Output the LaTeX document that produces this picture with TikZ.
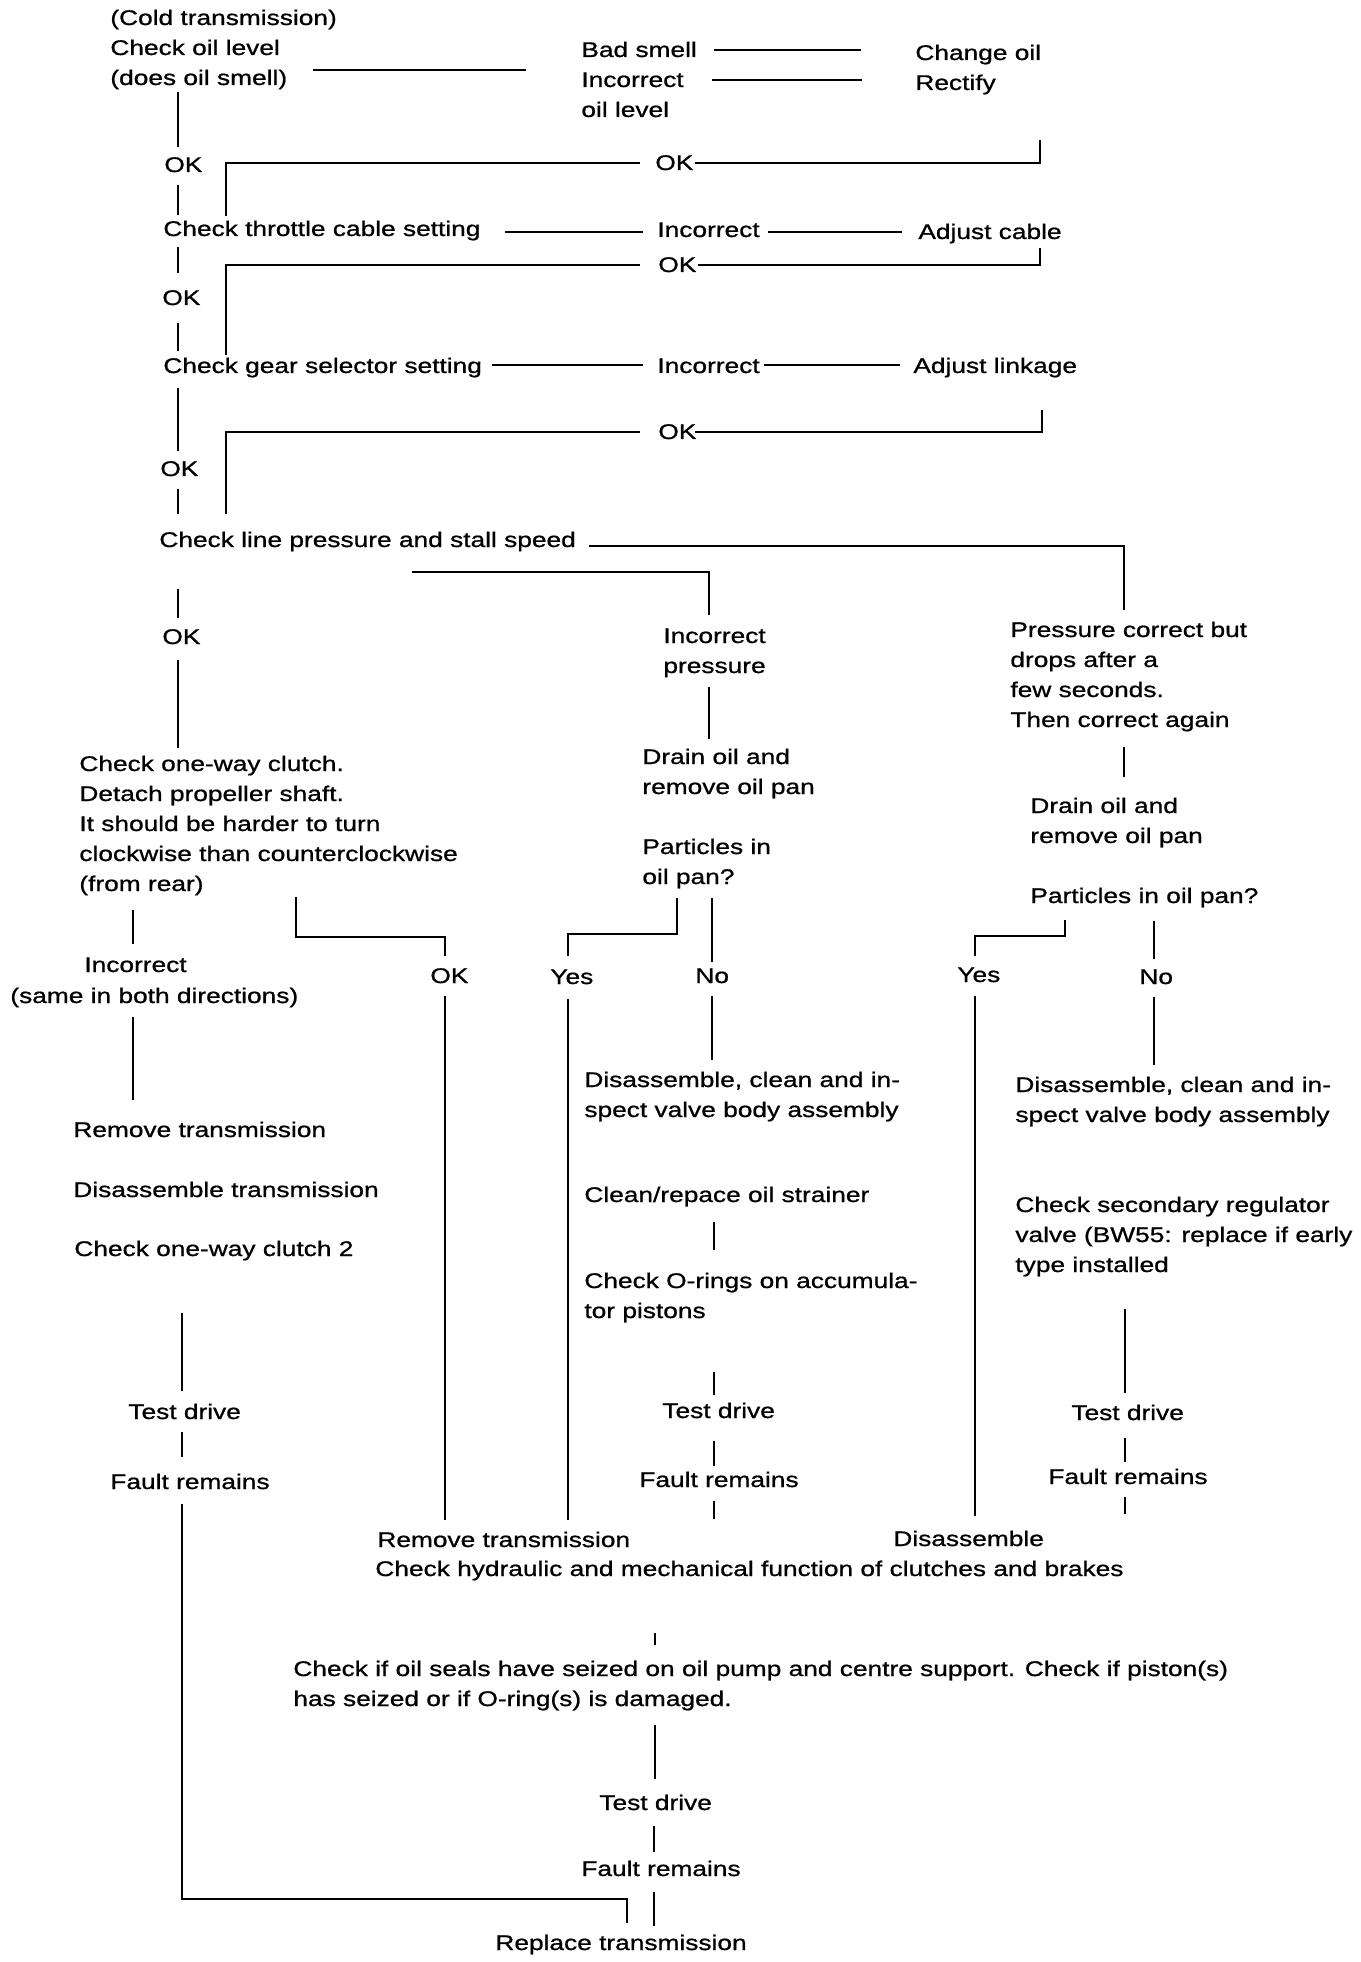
\documentclass[tikz,border=0pt]{standalone}
\usepackage{fontspec}
\setmainfont{Liberation Sans}[FakeStretch=1.24,FakeBold=0.9]
\newcommand{\ml}[1]{\begin{tabular}[t]{@{}l@{}}#1\end{tabular}}
\tikzset{
  txt/.style={anchor=base west, inner sep=0pt, font=\fontsize{10.6pt}{15pt}\selectfont},
  ln/.style={line width=1.2pt}
}
\begin{document}
\begin{tikzpicture}[x=0.5pt,y=-0.5pt]
\fill[white] (0,0) rectangle (1360,1962);
\useasboundingbox (0,0) rectangle (1360,1962);
% ---------- texts ----------
\node[txt] (cold) at (110,25) {\ml{(Cold transmission)\\Check oil level\\(does oil smell)}};
\node[txt] (bad) at (581,57) {\ml{Bad smell\\Incorrect\\oil level}};
\node[txt] (chg) at (915,60) {\ml{Change oil\\Rectify}};
\node[txt] (ok1) at (164,172) {OK};
\node[txt] (ok1r) at (655,170) {OK};
\node[txt] (thr) at (163,236) {Check throttle cable setting};
\node[txt] (thrinc) at (657,237) {Incorrect};
\node[txt] (adjc) at (918,239) {Adjust cable};
\node[txt] (ok2) at (162,305) {OK};
\node[txt] (ok2r) at (658,272) {OK};
\node[txt] (gear) at (163,373) {Check gear selector setting};
\node[txt] (gearinc) at (657,373) {Incorrect};
\node[txt] (adjl) at (913,373) {Adjust linkage};
\node[txt] (ok3r) at (658,439) {OK};
\node[txt] (ok3) at (160,476) {OK};
\node[txt] (lp) at (159,547) {Check line pressure and stall speed};
\node[txt] (ok4) at (162,644) {OK};
\node[txt] (incp) at (663,643) {\ml{Incorrect\\pressure}};
\node[txt] (pcb) at (1010,637) {\ml{Pressure correct but\\drops after a\\few seconds.\\Then correct again}};
\node[txt] (owc) at (79,771) {\ml{Check one-way clutch.\\Detach propeller shaft.\\It should be harder to turn\\clockwise than counterclockwise\\(from rear)}};
\node[txt] (dr1) at (642,764) {\ml{Drain oil and\\remove oil pan}};
\node[txt] (pa1) at (642,854) {\ml{Particles in\\oil pan?}};
\node[txt] (dr2) at (1030,813) {\ml{Drain oil and\\remove oil pan}};
\node[txt] (pa2) at (1030,903) {Particles in oil pan?};
\node[txt] (inc2) at (84,972) {Incorrect};
\node[txt] (same) at (10,1003) {(same in both directions)};
\node[txt] (okb) at (430,983) {OK};
\node[txt] (yes1) at (550,984) {Yes};
\node[txt] (no1) at (695,983) {No};
\node[txt] (yes2) at (957,982) {Yes};
\node[txt] (no2) at (1139,984) {No};
\node[txt] (dis1) at (584,1087) {\ml{Disassemble, clean and in-\\spect valve body assembly}};
\node[txt] (dis2) at (1015,1092) {\ml{Disassemble, clean and in-\\spect valve body assembly}};
\node[txt] (rmL) at (73,1137) {Remove transmission};
\node[txt] (disL) at (73,1197) {Disassemble transmission};
\node[txt] (chkL) at (74,1256) {Check one-way clutch 2};
\node[txt] (cln) at (584,1202) {Clean/repace oil strainer};
\node[txt] (sec) at (1015,1212) {\ml{Check secondary regulator\\valve (BW55: replace if early\\type installed}};
\node[txt] (orn) at (584,1288) {\ml{Check O-rings on accumula-\\tor pistons}};
\node[txt] (tdL) at (128,1419) {Test drive};
\node[txt] (tdM) at (662,1418) {Test drive};
\node[txt] (tdR) at (1071,1420) {Test drive};
\node[txt] (frL) at (110,1489) {Fault remains};
\node[txt] (frM) at (639,1487) {Fault remains};
\node[txt] (frR) at (1048,1484) {Fault remains};
\node[txt] (rmB) at (377,1547) {Remove transmission};
\node[txt] (disB) at (893,1546) {Disassemble};
\node[txt] (hyd) at (375,1576) {Check hydraulic and mechanical function of clutches and brakes};
\node[txt] (seal) at (293,1676) {\ml{Check if oil seals have seized on oil pump and centre support. Check if piston(s)\\has seized or if O-ring(s) is damaged.}};
\node[txt] (tdB) at (599,1810) {Test drive};
\node[txt] (frB) at (581,1876) {Fault remains};
\node[txt] (rep) at (495,1950) {Replace transmission};
% ---------- connectors ----------
% main spine
\draw[ln] (178,92) -- (178,147);
\draw[ln] (178,185) -- (178,215);
\draw[ln] (178,247) -- (178,273);
\draw[ln] (178,323) -- (178,351);
\draw[ln] (178,388) -- (178,451);
\draw[ln] (178,489) -- (178,514);
\draw[ln] (178,589) -- (178,618);
\draw[ln] (178,660) -- (178,748);
% top
\draw[ln] (313,70) -- (526,70);
\draw[ln] (714,50) -- (861,50);
\draw[ln] (712,80) -- (862,80);
% OK loops
\draw[ln] (226,216) -- (226,163) -- (640,163);
\draw[ln] (695,163) -- (1040,163) -- (1040,140);
\draw[ln] (505,232) -- (643,232);
\draw[ln] (768,232) -- (902,232);
\draw[ln] (226,355) -- (226,265) -- (640,265);
\draw[ln] (698,265) -- (1040,265) -- (1040,248);
\draw[ln] (492,365) -- (643,365);
\draw[ln] (764,365) -- (900,365);
\draw[ln] (226,514) -- (226,432) -- (640,432);
\draw[ln] (695,432) -- (1042,432) -- (1042,410);
% line pressure branches
\draw[ln] (589,546) -- (1124,546) -- (1124,610);
\draw[ln] (412,572) -- (709,572) -- (709,615);
\draw[ln] (709,687) -- (709,739);
\draw[ln] (1124,747) -- (1124,777);
% left column
\draw[ln] (133,910) -- (133,944);
\draw[ln] (133,1017) -- (133,1100);
\draw[ln] (296,897) -- (296,937) -- (445,937) -- (445,956);
\draw[ln] (445,996) -- (445,1520);
\draw[ln] (182,1313) -- (182,1391);
\draw[ln] (182,1432) -- (182,1457);
\draw[ln] (182,1504) -- (182,1899) -- (627,1899) -- (627,1923);
% middle column
\draw[ln] (677,898) -- (677,934) -- (568,934) -- (568,956);
\draw[ln] (568,999) -- (568,1520);
\draw[ln] (712,898) -- (712,962);
\draw[ln] (712,996) -- (712,1060);
\draw[ln] (714,1222) -- (714,1250);
\draw[ln] (714,1372) -- (714,1395);
\draw[ln] (714,1441) -- (714,1466);
\draw[ln] (714,1501) -- (714,1519);
% right column
\draw[ln] (1065,920) -- (1065,936) -- (975,936) -- (975,956);
\draw[ln] (975,996) -- (975,1516);
\draw[ln] (1154,921) -- (1154,959);
\draw[ln] (1154,997) -- (1154,1065);
\draw[ln] (1125,1309) -- (1125,1393);
\draw[ln] (1125,1438) -- (1125,1462);
\draw[ln] (1125,1497) -- (1125,1514);
% bottom
\draw[ln] (655,1633) -- (655,1645);
\draw[ln] (655,1725) -- (655,1779);
\draw[ln] (654,1826) -- (654,1852);
\draw[ln] (654,1892) -- (654,1926);
\end{tikzpicture}
\end{document}
